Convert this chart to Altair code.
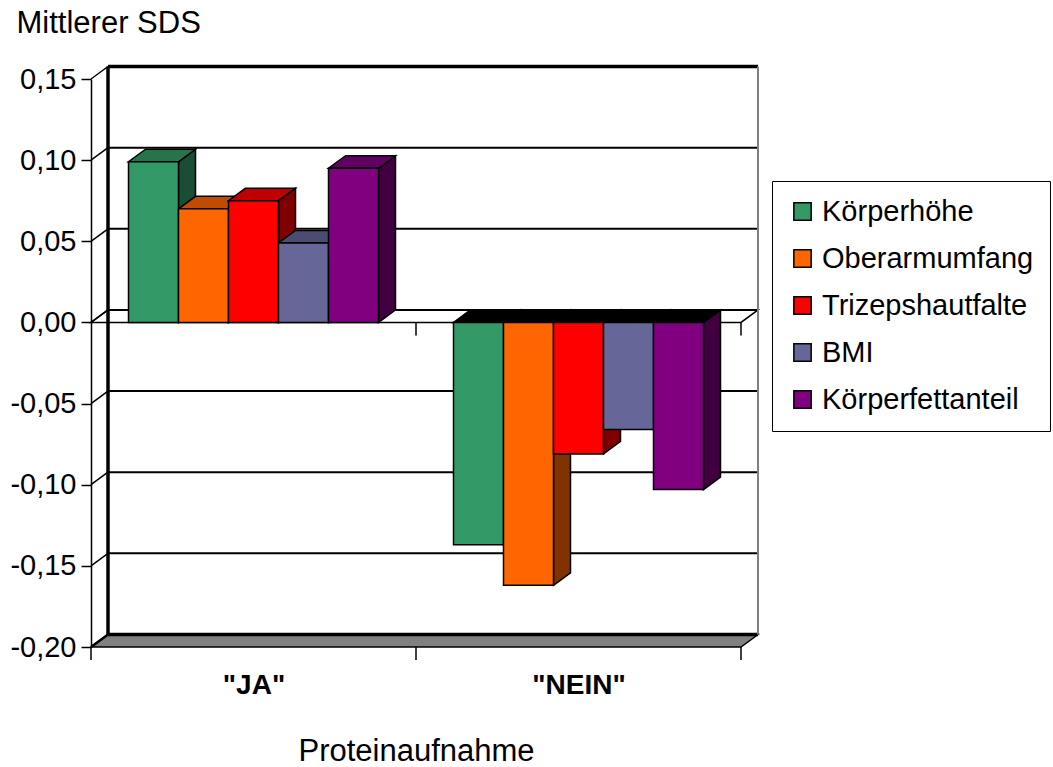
import json
import altair as alt
import pandas as pd

# ---------------- data ----------------
groups = ['"JA"', '"NEIN"']
series = ["Körperhöhe", "Oberarmumfang", "Trizepshautfalte", "BMI", "Körperfettanteil"]
values_ja = [0.099, 0.070, 0.075, 0.049, 0.095]
values_nein = [-0.137, -0.162, -0.081, -0.066, -0.103]
y_ticks = [-0.20, -0.15, -0.10, -0.05, 0.00, 0.05, 0.10, 0.15]

front_colors = ["#339966", "#FF6600", "#FF0000", "#666699", "#800080"]
top_colors = ["#26734C", "#BF4C00", "#BF0000", "#4C4C73", "#600060"]
side_colors = ["#1A4D33", "#803300", "#800000", "#333366", "#400040"]
neg_top_color = "#000000"

FONT = "Liberation Sans, Arial, sans-serif"

# ---------------- geometry (layout only) ----------------
PLOT_W, PLOT_H = 650, 568
Y_MIN, Y_MAX = -0.20, 0.15
X_MIN, X_MAX = 0, len(groups)
PX_Y = (Y_MAX - Y_MIN) / PLOT_H
PX_X = (X_MAX - X_MIN) / PLOT_W
DX = 17 * PX_X          # 3-D depth, horizontal
DY = 12.5 * PX_Y        # 3-D depth, vertical
TICK = 13 * PX_Y
GROUP_FRAC = 250 / 325
BAR_W = GROUP_FRAC / len(series)

xs = alt.Scale(domain=[X_MIN, X_MAX], nice=False, zero=False)
ys = alt.Scale(domain=[Y_MIN, Y_MAX], nice=False, zero=False)

# ---------------- tables ----------------
fronts, tops, sides = [], [], []
for g, vals in enumerate([values_ja, values_nein]):
    for i, (s, v) in enumerate(zip(series, vals)):
        x0 = g + (1 - GROUP_FRAC) / 2 + i * BAR_W
        x1 = x0 + BAR_W
        bid = f"{g}-{i}"
        fronts.append(dict(series=s, x0=x0, x1=x1, v=v, base=0.0))
        ty = v if v >= 0 else 0.0
        tc = top_colors[i] if v >= 0 else neg_top_color
        tops.append(dict(id=bid, y=ty, xa=x0, xb=x1, col=tc))
        tops.append(dict(id=bid, y=ty + DY, xa=x0 + DX, xb=x1 + DX, col=tc))
        sides.append(dict(id=bid, x=x1, ya=v, yb=0.0, col=side_colors[i]))
        sides.append(dict(id=bid, x=x1 + DX, ya=v + DY, yb=DY, col=side_colors[i]))

planes = pd.DataFrame([
    dict(id="floor", y=Y_MIN, xa=X_MIN, xb=X_MAX, col="#808080"),
    dict(id="floor", y=Y_MIN + DY, xa=X_MIN + DX, xb=X_MAX + DX, col="#808080"),
    dict(id="zero", y=0.0, xa=X_MIN, xb=X_MAX, col="#FFFFFF"),
    dict(id="zero", y=DY, xa=X_MIN + DX, xb=X_MAX + DX, col="#FFFFFF"),
])

grid = pd.DataFrame([
    dict(x=X_MIN + DX, x2=X_MAX + DX, y=v + DY, y2=v + DY,
         w=3.5 if v in (Y_MIN, Y_MAX) else 2.0, c="#000000")
    for v in y_ticks
] + [
    dict(x=X_MIN + DX, x2=X_MIN + DX, y=Y_MIN + DY, y2=Y_MAX + DY, w=3.5, c="#000000"),
    dict(x=X_MAX + DX, x2=X_MAX + DX, y=Y_MIN + DY, y2=Y_MAX + DY, w=2.0, c="#808080"),
])

slants = pd.DataFrame([
    dict(x=X_MIN, x2=X_MIN + DX, y=v, y2=v + DY, w=2.5 if v == Y_MIN else 1.5)
    for v in y_ticks
])

ticks = pd.DataFrame(
    [dict(x=float(k), y=Y_MIN, y2=Y_MIN - TICK) for k in range(len(groups) + 1)]
    + [dict(x=float(k), y=0.0, y2=-TICK) for k in range(1, len(groups) + 1)]
)

# ---------------- axes ----------------
y_label_expr = "(datum.value < 0 ? '-' : '') + replace(format(abs(datum.value), '.2f'), '.', ',')"
x_label_expr = f"{json.dumps(groups)}[floor(datum.value)]"

y_axis = alt.Axis(
    values=y_ticks, labelExpr=y_label_expr, grid=False,
    domain=True, domainColor="black", domainWidth=1.5,
    ticks=True, tickColor="black", tickWidth=1.5, tickSize=10,
    labelFont=FONT, labelFontSize=29, labelColor="black", labelPadding=5,
    labelOverlap=False, labelFlush=False,
    title="Mittlerer SDS", titleAngle=0, titleAlign="left", titleBaseline="alphabetic",
    titleX=-75, titleY=-47, titleFont=FONT, titleFontSize=31,
    titleFontWeight="normal", titleColor="black",
)
x_axis = alt.Axis(
    values=[k + 0.5 for k in range(len(groups))], labelExpr=x_label_expr, grid=False,
    domain=False, ticks=False, tickSize=0,
    labelFont=FONT, labelFontSize=28, labelFontWeight="bold", labelColor="black",
    labelPadding=24, labelOverlap=False, labelFlush=False,
    title="Proteinaufnahme", titleFont=FONT, titleFontSize=31, titleFontWeight="normal",
    titleColor="black", titleX=PLOT_W / 2, titleY=113, titleBaseline="alphabetic",
    titleAlign="center",
)

# ---------------- layers ----------------
planes_l = alt.Chart(planes).mark_area(orient="horizontal", stroke="black", strokeWidth=1.5).encode(
    y=alt.Y("y:Q", scale=ys, axis=None),
    x=alt.X("xa:Q", scale=xs, axis=None, stack=None),
    x2="xb:Q",
    detail="id:N",
    fill=alt.Fill("col:N", scale=None, legend=None),
)

grid_l = alt.Chart(grid).mark_rule().encode(
    x=alt.X("x:Q", scale=xs, axis=None), x2="x2:Q",
    y=alt.Y("y:Q", scale=ys, axis=None), y2="y2:Q",
    strokeWidth=alt.StrokeWidth("w:Q", scale=None, legend=None),
    color=alt.Color("c:N", scale=None, legend=None),
)

slant_l = alt.Chart(slants).mark_rule(color="black").encode(
    x=alt.X("x:Q", scale=xs, axis=x_axis, title="Proteinaufnahme"), x2="x2:Q",
    y=alt.Y("y:Q", scale=ys, axis=y_axis, title="Mittlerer SDS"), y2="y2:Q",
    strokeWidth=alt.StrokeWidth("w:Q", scale=None, legend=None),
)

tick_l = alt.Chart(ticks).mark_rule(color="black", strokeWidth=1.5).encode(
    x=alt.X("x:Q", scale=xs, axis=None),
    y=alt.Y("y:Q", scale=ys, axis=None), y2="y2:Q",
)

side_l = alt.Chart(pd.DataFrame(sides)).mark_area(orient="vertical", stroke="black", strokeWidth=1.5).encode(
    x=alt.X("x:Q", scale=xs, axis=None),
    y=alt.Y("ya:Q", scale=ys, axis=None, stack=None), y2="yb:Q",
    detail="id:N",
    fill=alt.Fill("col:N", scale=None, legend=None),
)

top_l = alt.Chart(pd.DataFrame(tops)).mark_area(orient="horizontal", stroke="black", strokeWidth=1.5).encode(
    y=alt.Y("y:Q", scale=ys, axis=None),
    x=alt.X("xa:Q", scale=xs, axis=None, stack=None), x2="xb:Q",
    detail="id:N",
    fill=alt.Fill("col:N", scale=None, legend=None),
)

front_l = alt.Chart(pd.DataFrame(fronts)).mark_rect(stroke="black", strokeWidth=1.5).encode(
    x=alt.X("x0:Q", scale=xs, axis=None), x2="x1:Q",
    y=alt.Y("v:Q", scale=ys, axis=None), y2="base:Q",
    fill=alt.Fill(
        "series:N",
        scale=alt.Scale(domain=series, range=front_colors),
        sort=series,
        legend=alt.Legend(
            title=None, orient="none", legendX=681, legendY=102,
            symbolType="square", symbolSize=300, symbolStrokeColor="black",
            symbolStrokeWidth=1.5, symbolOpacity=1,
            labelFont=FONT, labelFontSize=29, labelColor="black", labelOffset=5,
            labelLimit=400, rowPadding=17, padding=16,
            strokeColor="black", fillColor="white",
        ),
    ),
)

chart = alt.layer(
    planes_l, grid_l, slant_l, tick_l, side_l, top_l, front_l
).resolve_axis(
    x="independent", y="independent"
).resolve_scale(
    fill="independent", color="independent", strokeWidth="independent"
).resolve_legend(
    fill="independent"
).properties(
    width=PLOT_W, height=PLOT_H,
    autosize=alt.AutoSizeParams(type="none"),
    padding={"left": 91, "top": 79, "right": 312, "bottom": 120},
    background="white",
).configure_view(stroke=None)

chart.save("out.html", embed_options={"renderer": "svg", "actions": False})
